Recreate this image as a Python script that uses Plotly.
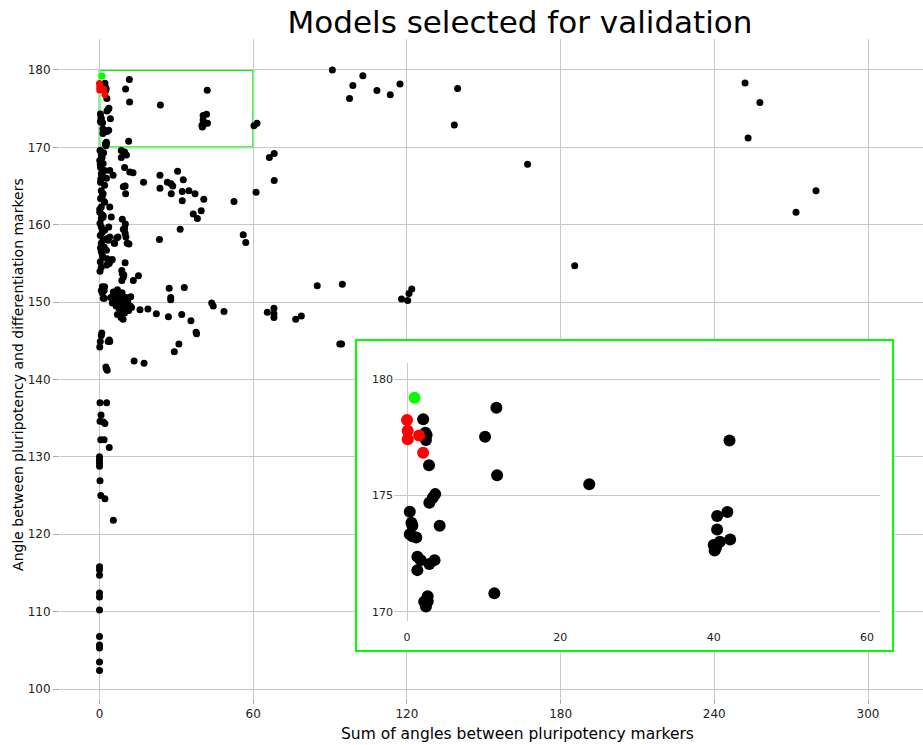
import plotly.graph_objects as go

# ---------------- data (sum of angles, angle between pluri & diff markers) ----------------
box_pts = [(2.11, 178.28), (2.56, 177.60), (2.47, 177.39), (2.40, 177.70), (2.87, 176.30),
           (3.68, 175.06), (3.36, 174.90), (2.91, 174.69), (4.26, 173.70), (0.36, 174.30),
           (0.58, 173.83), (0.70, 173.70), (0.36, 173.33), (0.70, 173.25), (1.21, 173.19),
           (1.35, 172.37), (1.79, 172.22), (1.35, 171.79), (2.91, 172.05), (3.59, 172.22),
           (2.69, 170.67), (2.70, 170.45), (2.24, 170.43), (2.47, 170.22), (11.66, 178.78),
           (10.18, 177.53), (11.75, 175.87), (23.77, 175.48), (11.39, 170.79), (42.06, 177.37),
           (41.79, 174.29), (40.45, 174.12), (40.45, 173.54), (42.15, 173.11), (40.81, 173.01),
           (40.00, 172.87), (40.13, 172.63), (40.30, 172.75)]

top_right_pts = [(60.3, 172.8), (61.5, 173.1), (90.9, 180.0), (102.8, 179.25), (98.9, 178.0),
                 (97.6, 176.3), (108.3, 177.35), (113.5, 176.8), (117.3, 178.2), (139.8, 177.6),
                 (138.5, 172.9), (252.0, 178.3), (257.8, 175.8), (253.2, 171.2), (167.1, 167.8),
                 (279.7, 164.4), (271.9, 161.6), (185.5, 154.7)]

mid_pts = [(66.3, 168.7), (68.2, 169.2), (68.2, 165.7), (61.1, 164.2), (85.0, 152.1),
           (94.8, 152.3), (117.9, 150.4), (120.3, 150.2), (120.8, 151.1), (121.9, 151.7),
           (65.5, 148.7), (68.1, 149.2), (68.1, 148.5), (68.1, 148.0), (76.6, 147.8),
           (78.8, 148.2), (93.8, 144.6), (94.5, 144.6), (30.5, 166.9), (32.7, 165.8),
           (23.6, 166.4), (26.5, 165.5), (28.6, 165.0), (27.9, 165.3), (23.6, 164.7),
           (28.0, 164.0), (32.3, 164.3), (34.9, 164.4), (37.3, 164.0), (32.3, 163.1),
           (40.7, 163.3), (52.5, 163.0), (39.7, 161.8), (36.6, 161.4), (38.2, 160.8),
           (31.5, 159.4), (23.4, 158.1), (56.1, 158.7), (57.1, 157.7), (27.2, 151.8),
           (27.8, 150.6), (27.8, 150.3), (33.1, 151.9), (43.8, 149.9), (44.4, 149.5),
           (48.6, 148.8), (26.9, 148.1), (32.1, 148.4), (35.7, 147.6), (37.7, 146.1),
           (37.9, 145.9), (31.0, 144.6), (29.2, 143.6), (17.2, 165.5), (15.8, 149.0),
           (18.9, 149.1), (22.2, 148.5), (13.5, 142.4), (17.4, 142.1), (13.2, 152.8),
           (15.2, 153.4), (12.2, 150.7)]

left_cluster_pts = [(8.5, 169.6), (9.8, 169.4), (10.5, 169.0), (8.5, 168.7), (9.8, 167.4),
                    (11.8, 166.8), (13.1, 166.7), (4.0, 167.0), (5.3, 166.4), (10.0, 165.0),
                    (9.3, 164.9), (10.2, 164.0), (4.0, 162.3), (4.6, 161.0), (8.9, 160.7),
                    (10.1, 160.1), (9.3, 159.4), (10.0, 158.9), (10.3, 158.4), (11.5, 157.5),
                    (9.8, 159.5), (10.8, 157.6), (6.7, 158.3), (5.8, 157.6), (2.8, 158.2),
                    (3.4, 158.0), (5.0, 155.5), (2.8, 154.8), (3.8, 155.0), (10.0, 155.1),
                    (8.7, 154.1), (8.9, 153.7), (9.3, 153.2), (8.7, 152.8), (9.5, 153.5),
                    (7.0, 151.6), (4.6, 155.4), (3.6, 159.7), (4.0, 158.4), (2.7, 156.7),
                    (3.0, 155.6), (7.2, 158.4), (5.9, 157.6)]

star_cluster_pts = [(4.4, 150.6), (5.0, 149.9), (5.6, 150.9), (6.1, 150.2), (6.5, 149.5),
                    (6.9, 150.8), (7.3, 150.0), (7.6, 149.2), (8.0, 150.5), (8.3, 149.8),
                    (8.7, 148.9), (9.0, 150.2), (9.4, 149.5), (9.8, 148.6), (10.2, 149.9),
                    (10.6, 149.2), (11.0, 150.1), (11.4, 148.9), (12.0, 149.5), (12.5, 149.3),
                    (7.0, 148.4), (8.4, 148.0), (9.2, 147.8), (5.4, 151.3), (6.4, 151.0),
                    (10.3, 150.6), (7.8, 151.0), (8.8, 151.2)]

column_pts = [(0.7, 169.0), (0.1, 168.3), (1.4, 167.9), (0.4, 167.4), (2.0, 167.0),
              (0.7, 166.6), (1.4, 166.2), (2.7, 166.0), (0.4, 165.5), (2.0, 165.1),
              (0.7, 164.4), (1.4, 164.0), (0.4, 163.4), (2.0, 162.9), (0.7, 162.3),
              (0.1, 161.6), (1.4, 161.2), (0.7, 160.8), (0.2, 169.6), (1.0, 168.7),
              (0.3, 167.8), (1.6, 169.3), (0.7, 161.4), (1.4, 161.0), (0.7, 159.7),
              (2.0, 159.3), (0.3, 158.6), (1.4, 158.0), (0.7, 157.6), (1.9, 157.1),
              (0.7, 156.5), (1.4, 155.8), (0.3, 155.2), (0.7, 154.5), (2.0, 152.0),
              (0.7, 151.5), (1.9, 150.5), (1.1, 152.0), (1.8, 151.5), (1.1, 151.2),
              (1.5, 150.5), (0.2, 160.2), (1.0, 159.0), (0.4, 157.0), (1.1, 156.0),
              (0.2, 154.0), (0.5, 165.9), (1.0, 163.6), (0.1, 162.0), (1.8, 163.0),
              (0.7, 145.7), (0.3, 144.9), (0.1, 144.2), (0.9, 146.0), (3.8, 145.1),
              (3.4, 144.9), (4.0, 144.9), (2.5, 141.6), (3.0, 141.2), (2.7, 141.4)]

lower_column_pts = [(0.2, 137.0), (2.8, 137.0), (0.6, 135.4), (0.2, 134.6), (1.5, 134.5),
                    (2.1, 134.3), (0.5, 132.2), (1.8, 132.2), (3.8, 131.2), (0.0, 130.0),
                    (0.0, 129.6), (0.0, 129.2), (0.0, 128.8), (0.2, 126.9), (0.5, 125.0),
                    (2.1, 124.6), (5.4, 121.8), (0.0, 115.8), (0.0, 115.4), (0.0, 114.7),
                    (0.0, 112.4), (0.0, 111.9), (0.0, 110.2), (0.0, 106.8), (0.0, 105.7),
                    (0.0, 105.3), (0.0, 103.5), (0.0, 102.4)]

selected_pts = [(0.00, 178.25), (0.09, 177.79), (0.09, 177.42), (1.57, 177.58), (2.10, 176.84)]
best_pts = [(0.99, 179.21)]

zoom_x = [0, 60]
zoom_y = [170, 180]
main_xticks = [0, 60, 120, 180, 240, 300]
main_yticks = [100, 110, 120, 130, 140, 150, 160, 170, 180]
inset_xticks = [0, 20, 40, 60]
inset_yticks = [170, 175, 180]

# ---------------- helpers ----------------
def xs(pts):
    return [p[0] for p in pts]

def ys(pts):
    return [p[1] for p in pts]

def in_zoom(pts):
    return [p for p in pts if zoom_x[0] <= p[0] <= zoom_x[1] and zoom_y[0] <= p[1] <= zoom_y[1]]

black_pts = (box_pts + top_right_pts + mid_pts + left_cluster_pts + star_cluster_pts
             + column_pts + lower_column_pts)

FONT = "Verdana, 'DejaVu Sans', sans-serif"
GRID = "rgb(200,200,200)"
GREEN = "#00ff00"

fig = go.Figure()

groups = [(black_pts, "black"), (selected_pts, "#ff0000"), (best_pts, GREEN)]

for pts, col in groups:
    fig.add_trace(go.Scatter(x=xs(pts), y=ys(pts), mode="markers",
                             marker=dict(color=col, size=7, line=dict(width=0)),
                             xaxis="x", yaxis="y", showlegend=False))

# dummy subplot providing the white background of the inset frame
fig.add_trace(go.Scatter(x=[], y=[], xaxis="x2", yaxis="y2", showlegend=False,
                         hoverinfo="skip"))

for pts, col in groups:
    zp = in_zoom(pts)
    fig.add_trace(go.Scatter(x=xs(zp), y=ys(zp), mode="markers",
                             marker=dict(color=col, size=12, line=dict(width=0)),
                             xaxis="x3", yaxis="y3", showlegend=False))

fig.update_layout(
    width=923, height=745, autosize=False,
    margin=dict(l=60, r=0, t=39, b=47, pad=0),
    paper_bgcolor="white", plot_bgcolor="#ffffff",
    font=dict(family=FONT, color="#222"),
    showlegend=False,
    title=dict(text="Models selected for validation", font=dict(size=31, color="black"),
               x=0.5634, xref="container", xanchor="center",
               y=0.9705, yref="container", yanchor="middle"),
    xaxis=dict(domain=[0, 1], anchor="y", range=[-15.42, 321.47], tickvals=main_xticks,
               showgrid=True, gridcolor=GRID, gridwidth=1,
               zeroline=True, zerolinecolor=GRID, zerolinewidth=1,
               ticks="outside", ticklen=5, tickcolor="#aaa",
               tickfont=dict(size=12), showline=False),
    yaxis=dict(domain=[0, 1], anchor="x", range=[98.84, 184.0], tickvals=main_yticks,
               showgrid=True, gridcolor=GRID, gridwidth=1, zeroline=False,
               ticks="outside", ticklen=6, tickcolor="#aaa",
               tickfont=dict(size=12), showline=False),
    xaxis2=dict(domain=[0.3430, 0.9652], anchor="y2", range=[0, 1], visible=False),
    yaxis2=dict(domain=[0.0713, 0.5432], anchor="x2", range=[0, 1], visible=False),
    xaxis3=dict(domain=[0.3870, 0.9502], anchor="y3", range=[-1.70, 61.7], tickvals=inset_xticks,
                showgrid=False, zeroline=True, zerolinecolor=GRID, zerolinewidth=1,
                ticks="", tickfont=dict(size=11), showline=False, ticklabelstandoff=8),
    yaxis3=dict(domain=[0.1168, 0.5083], anchor="x3", range=[169.6, 180.7], tickvals=inset_yticks,
                showgrid=True, gridcolor=GRID, gridwidth=1, zeroline=False,
                ticks="", tickfont=dict(size=11), showline=False),
    shapes=[
        dict(type="rect", xref="x", yref="y", x0=zoom_x[0], x1=zoom_x[1], y0=zoom_y[0], y1=zoom_y[1],
             line=dict(color=GREEN, width=2), fillcolor="rgba(0,0,0,0)", layer="below"),
        dict(type="rect", xref="paper", yref="paper", x0=0.3430, x1=0.9652, y0=0.0713, y1=0.5432,
             line=dict(color=GREEN, width=2), fillcolor="rgba(0,0,0,0)", layer="above"),
    ],
    annotations=[
        dict(text="Sum of angles between pluripotency markers", xref="paper", yref="paper",
             x=0.5307, y=-0.0546, xanchor="center", yanchor="middle", showarrow=False,
             font=dict(size=15.5, color="black")),
        dict(text="Angle between pluripotency and differentiation markers", xref="paper",
             yref="paper", x=-0.0487, y=0.4917, xanchor="center", yanchor="middle",
             textangle=-90, showarrow=False, font=dict(size=14, color="black")),
    ],
)

fig.write_html("out.html")
